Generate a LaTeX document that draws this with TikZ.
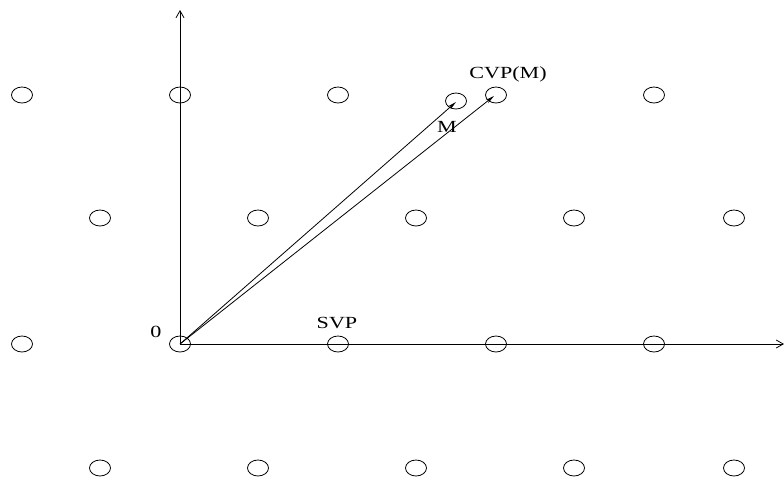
\documentclass[tikz,border=0pt]{standalone}
\usepackage{fontspec}
\setmainfont{Liberation Serif}
\usetikzlibrary{arrows.meta,shapes.geometric}
\begin{document}
\begin{tikzpicture}[x=1pt,y=-1pt,
  pt/.style={draw,ellipse,line width=0.8pt,minimum width=21pt,minimum height=16pt,inner sep=0pt},
  lbl/.style={font=\fontsize{17}{17}\selectfont,inner sep=0pt},
  axis/.style={line width=0.8pt,-{Straight Barb[length=7pt,width=8pt]}},
  vec/.style={line width=0.8pt,-{Stealth[length=9pt,width=4pt]}}]
\useasboundingbox (0,0) rectangle (784,480);
% lattice points
\foreach \x/\n in {22/a,180/b,338/c,496/d,654/e}{
  \node[pt] (r1\n) at (\x,95) {};
  \node[pt] (r3\n) at (\x,344) {};
}
\foreach \x/\n in {100/a,258/b,416/c,574/d,734/e}{
  \node[pt] (r2\n) at (\x,218) {};
  \node[pt] (r4\n) at (\x,468) {};
}
\node[pt] (m) at (456,101) {};
\coordinate (o) at (180,344);
\coordinate (ytop) at (180,10);
\coordinate (xend) at (784,344);
\coordinate (mtip) at (456,102);
\coordinate (ctip) at (494,96);
% axes
\draw[axis] (o) -- (ytop);
\draw[axis] (o) -- (xend);
% vectors
\draw[vec] (o) -- (mtip);
\draw[vec] (o) -- (ctip);
% labels
\node[lbl,anchor=base] (lcvp) at (508,78) {\scalebox{1.3}[1]{CVP(M)}};
\node[lbl,anchor=base] (lm) at (447,132) {\scalebox{1.3}[1]{M}};
\node[lbl,anchor=base] (lsvp) at (337,328) {\scalebox{1.3}[1]{SVP}};
\node[lbl,anchor=base] (l0) at (156,337) {\scalebox{1.3}[1]{0}};
\end{tikzpicture}
\end{document}
